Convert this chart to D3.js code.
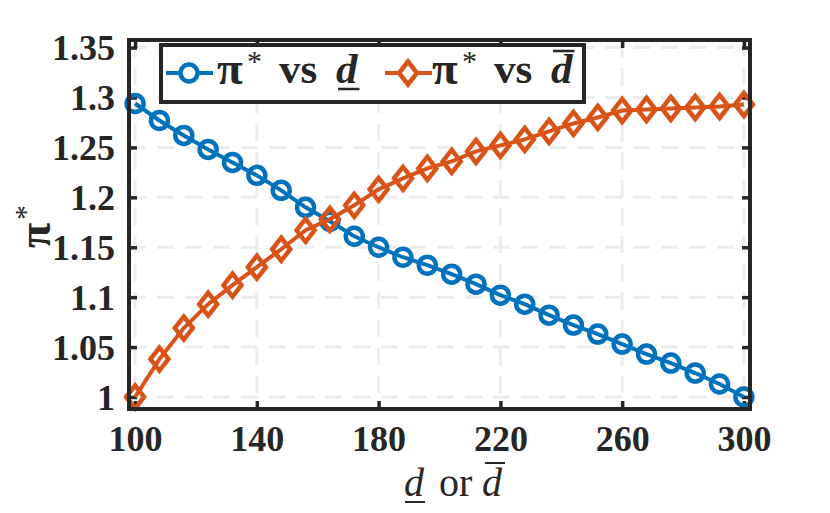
<!DOCTYPE html>
<html>
<head>
<meta charset="utf-8">
<script src="https://cdn.jsdelivr.net/npm/d3@7"></script>
<style>
    body { margin: 0; background: #fff; }
    svg text { font-family: "Liberation Serif", "Times New Roman", serif; font-weight: bold; fill: #262626; }
</style>
</head>
<body>
<svg id="svg" width="830" height="513"></svg>
<script>
// values
var dValues = [100, 108, 116, 124, 132, 140, 148, 156, 164, 172, 180, 188, 196,
    204, 212, 220, 228, 236, 244, 252, 260, 268, 276, 284, 292, 300];
var piVsDLower = [1.294, 1.277, 1.262, 1.248, 1.235, 1.222, 1.207, 1.190, 1.176,
    1.161, 1.150, 1.140, 1.132, 1.123, 1.113, 1.102, 1.093, 1.082, 1.072, 1.063,
    1.053, 1.043, 1.034, 1.024, 1.013, 1.000];
var piVsDUpper = [1.000, 1.038, 1.069, 1.093, 1.112, 1.130, 1.148, 1.167, 1.178,
    1.192, 1.208, 1.219, 1.229, 1.236, 1.246, 1.252, 1.258, 1.266, 1.274, 1.280,
    1.287, 1.288, 1.289, 1.290, 1.291, 1.293];
var xTicks = [100, 140, 180, 220, 260, 300];
var yTicks = [1, 1.05, 1.1, 1.15, 1.2, 1.25, 1.3, 1.35];
var yTickLabels = ['1', '1.05', '1.1', '1.15', '1.2', '1.25', '1.3', '1.35'];

(function () {

    var box = {left: 129, right: 750, top: 40, bottom: 409},
        dark = '#262626',
        blue = '#0072BD',
        orange = '#D95319';

    var $svg = d3.select('#svg');

    var x = d3.scaleLinear().domain([98, 302]).range([box.left, box.right]),
        y = d3.scaleLinear().domain([1, 1.3]).range([397, 97.5]);

    // grid
    var $grid = $svg.append('g').attr('class', 'grid');
    $grid.selectAll('line.gx')
        .data(xTicks)
        .enter()
        .append('line')
        .attr('x1', x).attr('x2', x)
        .attr('y1', box.top).attr('y2', box.bottom)
        .attr('stroke', '#ececec')
        .attr('stroke-width', 3)
        .attr('stroke-dasharray', '17,11');
    $grid.selectAll('line.gy')
        .data(yTicks)
        .enter()
        .append('line')
        .attr('y1', y).attr('y2', y)
        .attr('x1', box.left).attr('x2', box.right)
        .attr('stroke', '#ececec')
        .attr('stroke-width', 3)
        .attr('stroke-dasharray', '17,11');

    // axes (ticks inside, box all round)
    var tickLen = 8;
    var $axisB = $svg.append('g')
        .attr('transform', 'translate(0,' + box.bottom + ')')
        .call(d3.axisBottom(x).tickValues(xTicks).tickSize(-tickLen).tickPadding(16));
    var $axisT = $svg.append('g')
        .attr('transform', 'translate(0,' + box.top + ')')
        .call(d3.axisTop(x).tickValues(xTicks).tickSize(-tickLen).tickFormat(''));
    var $axisL = $svg.append('g')
        .attr('transform', 'translate(' + box.left + ',0)')
        .call(d3.axisLeft(y).tickValues(yTicks).tickSize(-tickLen).tickPadding(14)
            .tickFormat(function (d, i) { return yTickLabels[i]; }));
    var $axisR = $svg.append('g')
        .attr('transform', 'translate(' + box.right + ',0)')
        .call(d3.axisRight(y).tickValues(yTicks).tickSize(-tickLen).tickFormat(''));

    [$axisB, $axisT, $axisL, $axisR].forEach(function ($a) {
        $a.select('.domain').remove();
        $a.selectAll('.tick line').attr('stroke', dark).attr('stroke-width', 3.5);
        $a.selectAll('.tick text')
            .attr('fill', dark)
            .style('font-size', '36px')
            .style('font-family', '"Liberation Serif", serif')
            .style('font-weight', 'bold');
    });
    $axisB.selectAll('.tick text').attr('dy', '0.71em');
    $axisL.selectAll('.tick text').attr('dy', '0.34em');

    // series
    var $plot = $svg.append('g').attr('class', 'series');

    var circleMarker = 'M8.5,0A8.5,8.5 0 1,1 -8.5,0A8.5,8.5 0 1,1 8.5,0Z',
        diamondMarker = 'M0,-11.5L9,0L0,11.5L-9,0Z';

    function drawSeries(values, color, marker) {
        var line = d3.line()
            .x(function (d, i) { return x(dValues[i]); })
            .y(function (d) { return y(d); });
        $plot.append('path')
            .datum(values)
            .attr('d', line)
            .attr('fill', 'none')
            .attr('stroke', color)
            .attr('stroke-width', 4);
        $plot.append('g')
            .selectAll('path')
            .data(values)
            .enter()
            .append('path')
            .attr('transform', function (d, i) {
                return 'translate(' + x(dValues[i]) + ',' + y(d) + ')';
            })
            .attr('d', marker)
            .attr('fill', 'none')
            .attr('stroke', color)
            .attr('stroke-width', 4.5);
    }

    drawSeries(piVsDLower, blue, circleMarker);
    drawSeries(piVsDUpper, orange, diamondMarker);

    // frame on top
    $svg.append('rect')
        .attr('x', box.left).attr('y', box.top)
        .attr('width', box.right - box.left)
        .attr('height', box.bottom - box.top)
        .attr('fill', 'none')
        .attr('stroke', dark)
        .attr('stroke-width', 4);

    // legend
    var $legend = $svg.append('g').attr('class', 'legend');
    $legend.append('rect')
        .attr('x', 161).attr('y', 45)
        .attr('width', 423).attr('height', 57)
        .attr('fill', '#fff')
        .attr('stroke', dark)
        .attr('stroke-width', 4);

    var items = [
        {x0: 166, color: blue, marker: circleMarker, tx: 217, bar: 89},
        {x0: 385, color: orange, marker: diamondMarker, tx: 432, bar: 51}
    ];
    items.forEach(function (it) {
        $legend.append('line')
            .attr('x1', it.x0).attr('x2', it.x0 + 47)
            .attr('y1', 73).attr('y2', 73)
            .attr('stroke', it.color)
            .attr('stroke-width', 4);
        $legend.append('path')
            .attr('transform', 'translate(' + (it.x0 + 23) + ',73)')
            .attr('d', it.marker)
            .attr('fill', '#fff')
            .attr('stroke', it.color)
            .attr('stroke-width', 4.5);
        $legend.append('text')
            .attr('x', it.tx).attr('y', 84)
            .style('font-size', '47px')
            .text('π');
        $legend.append('text')
            .attr('x', it.tx + 30).attr('y', 71)
            .style('font-size', '30px')
            .style('font-weight', 'normal')
            .text('*');
        $legend.append('text')
            .attr('x', it.tx + 62).attr('y', 83)
            .style('font-size', '43px')
            .text('vs');
        var $d = $legend.append('text')
            .attr('x', it.tx + 119).attr('y', 83)
            .style('font-size', '43px')
            .style('font-style', 'italic')
            .text('d');
        var w = $d.node().getComputedTextLength();
        $legend.append('line')
            .attr('x1', it.tx + 121).attr('x2', it.tx + 121 + w)
            .attr('y1', it.bar).attr('y2', it.bar)
            .attr('stroke', dark)
            .attr('stroke-width', 2.5);
    });

    // y label
    var $yl = $svg.append('g').attr('transform', 'translate(50,230) rotate(-90)');
    $yl.append('text')
        .attr('x', -18).attr('y', 0)
        .style('font-size', '46px')
        .text('π');
    $yl.append('text')
        .attr('x', 10).attr('y', -15)
        .style('font-size', '30px')
        .style('font-weight', 'normal')
        .text('*');

    // x label
    var $xl = $svg.append('g').attr('class', 'xlabel');
    var $xd1 = $xl.append('text')
        .attr('x', 404).attr('y', 496)
        .style('font-size', '40px')
        .style('font-weight', 'normal')
        .style('font-style', 'italic')
        .text('d');
    $xl.append('text')
        .attr('x', 439).attr('y', 496)
        .style('font-size', '40px')
        .style('font-weight', 'normal')
        .text('or');
    var $xd2 = $xl.append('text')
        .attr('x', 482).attr('y', 496)
        .style('font-size', '40px')
        .style('font-weight', 'normal')
        .style('font-style', 'italic')
        .text('d');
    var w1 = $xd1.node().getComputedTextLength(),
        w2 = $xd2.node().getComputedTextLength();
    $xl.append('line')
        .attr('x1', 405).attr('x2', 405 + w1)
        .attr('y1', 502).attr('y2', 502)
        .attr('stroke', dark).attr('stroke-width', 2);
    $xl.append('line')
        .attr('x1', 485).attr('x2', 485 + w2)
        .attr('y1', 463).attr('y2', 463)
        .attr('stroke', dark).attr('stroke-width', 2);

})();
</script>
</body>
</html>
